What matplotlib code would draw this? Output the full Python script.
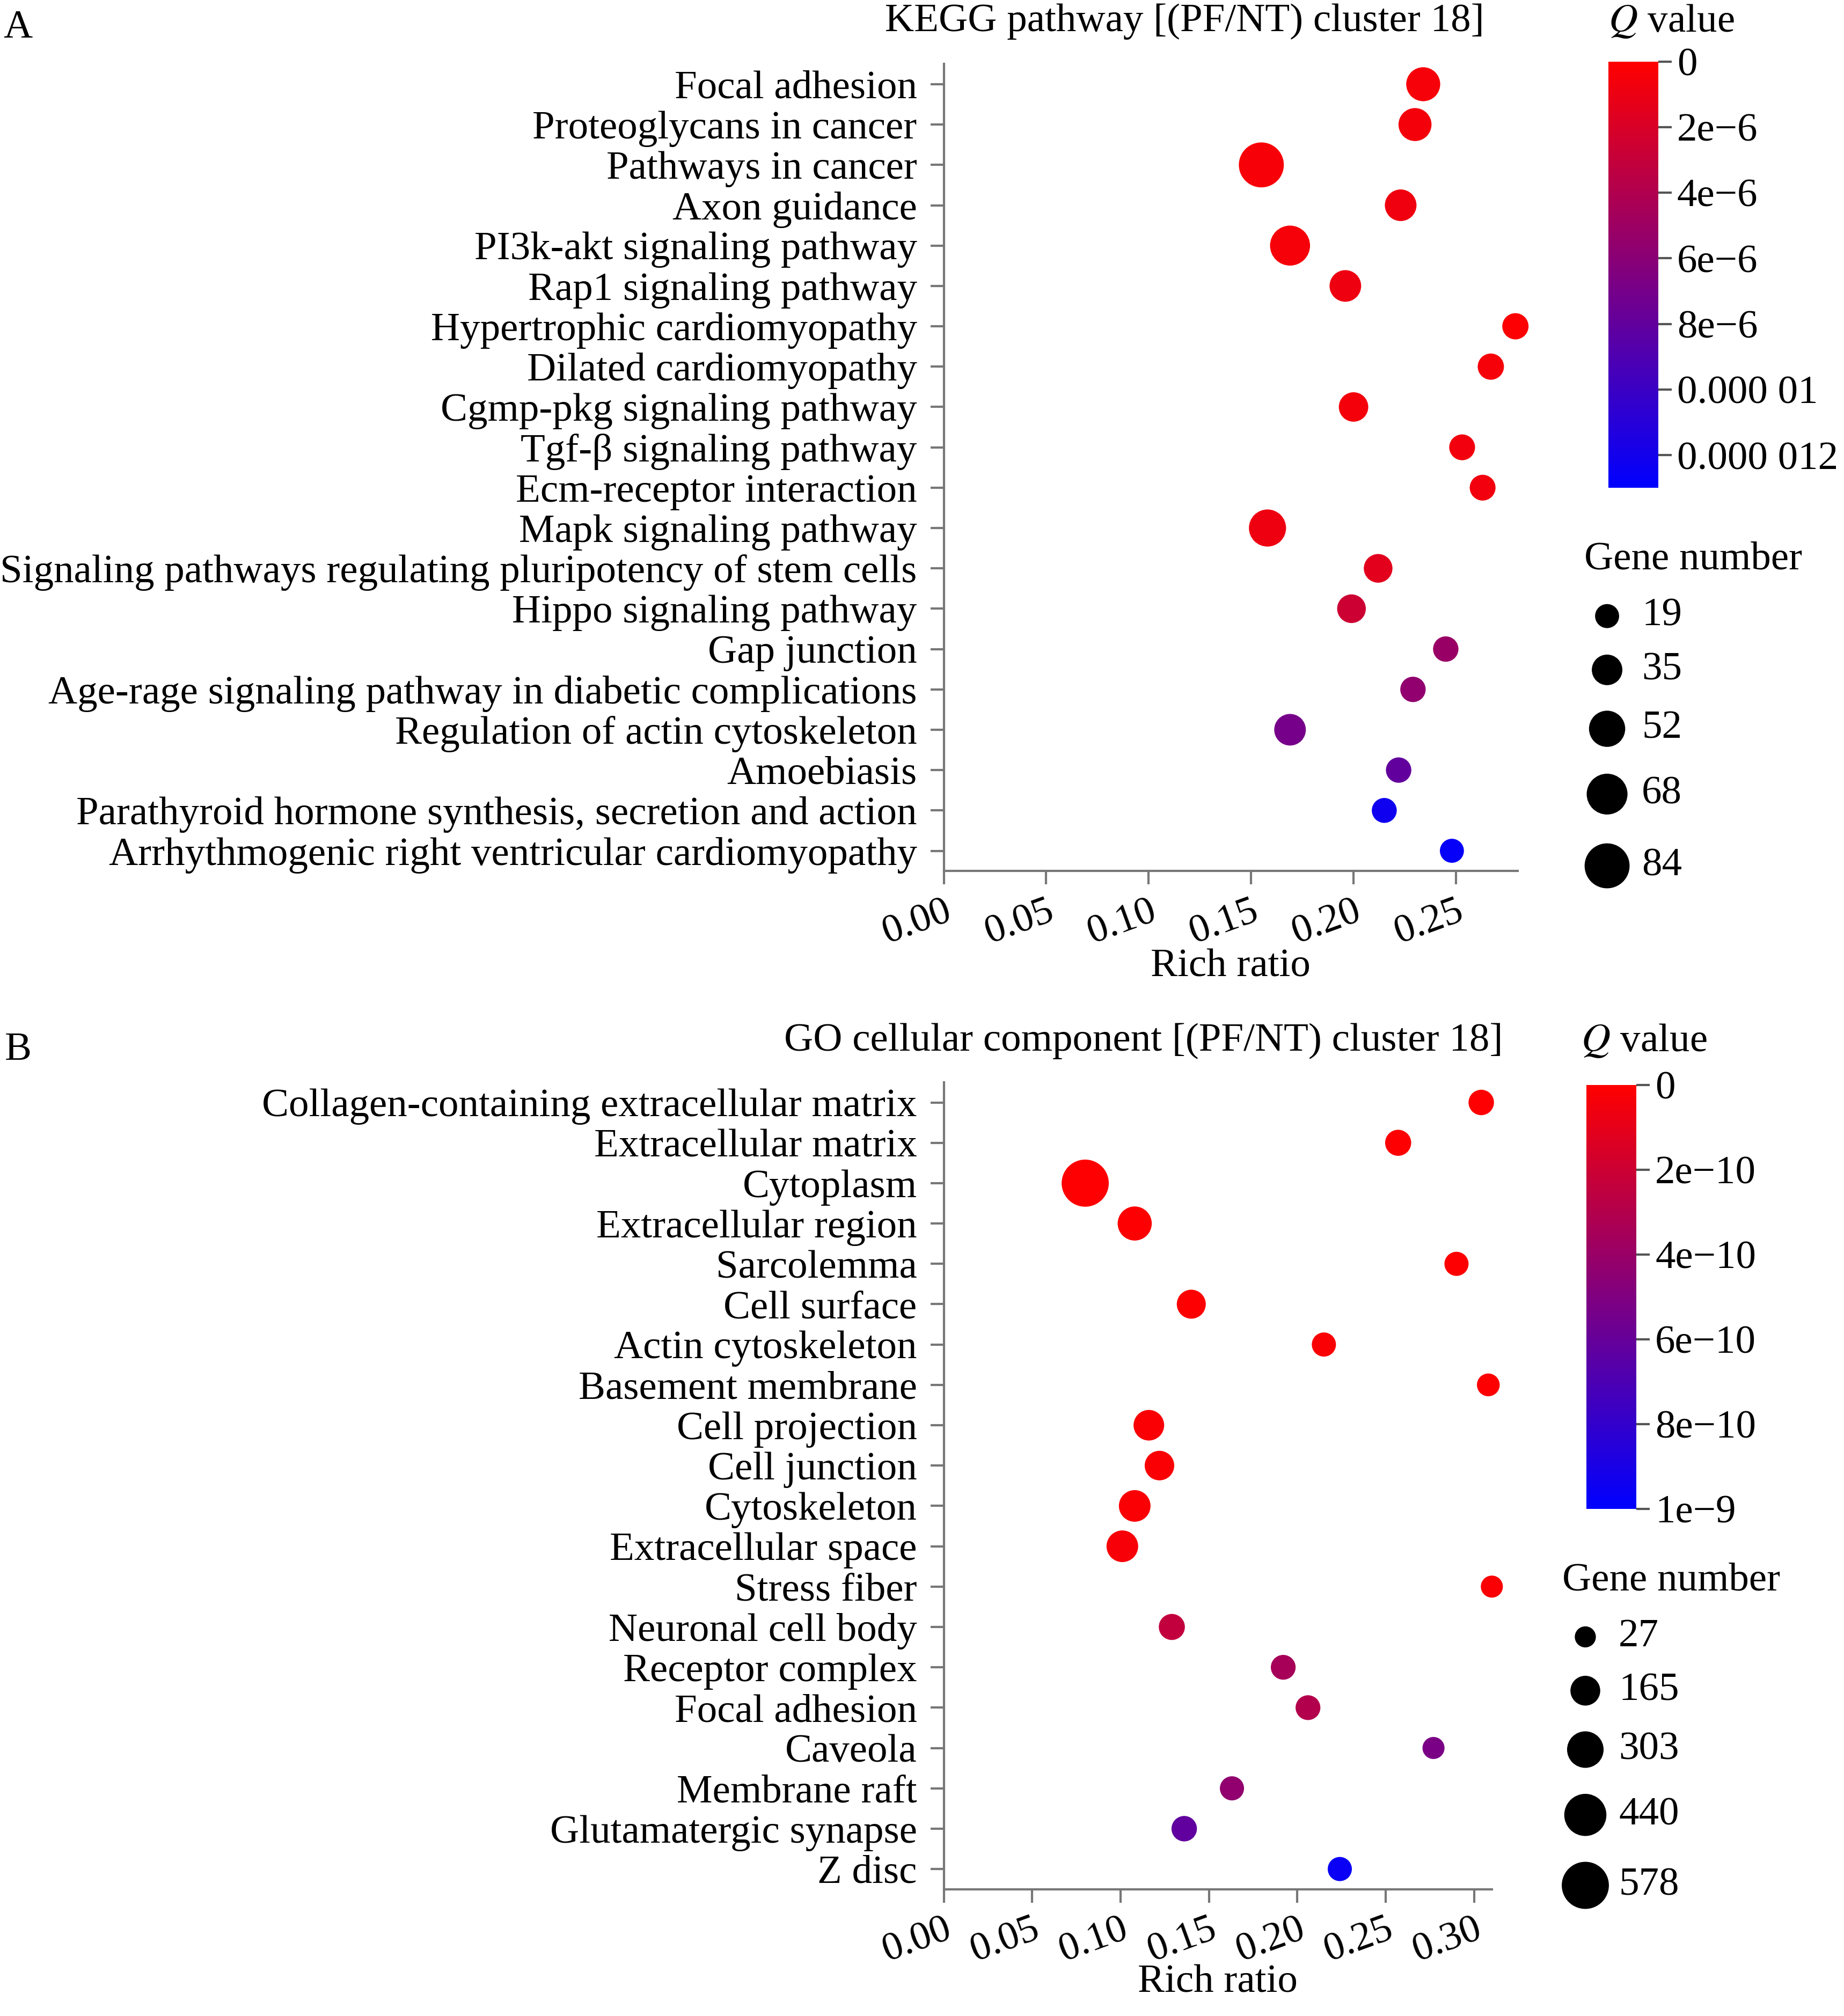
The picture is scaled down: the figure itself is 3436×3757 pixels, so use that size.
import matplotlib
matplotlib.use("Agg")
import matplotlib.pyplot as plt
import numpy as np
from matplotlib.colors import LinearSegmentedColormap, Normalize

plt.rcParams['font.family'] = ['Liberation Serif', 'DejaVu Serif']
plt.rcParams['mathtext.fontset'] = 'stix'

# ---- Panel A data ----
kegg_terms = ["Focal adhesion", "Proteoglycans in cancer", "Pathways in cancer", "Axon guidance",
              "PI3k-akt signaling pathway", "Rap1 signaling pathway", "Hypertrophic cardiomyopathy",
              "Dilated cardiomyopathy", "Cgmp-pkg signaling pathway", "Tgf-β signaling pathway",
              "Ecm-receptor interaction", "Mapk signaling pathway",
              "Signaling pathways regulating pluripotency of stem cells", "Hippo signaling pathway",
              "Gap junction", "Age-rage signaling pathway in diabetic complications",
              "Regulation of actin cytoskeleton", "Amoebiasis",
              "Parathyroid hormone synthesis, secretion and action",
              "Arrhythmogenic right ventricular cardiomyopathy"]
kegg_ratio = [0.234, 0.230, 0.155, 0.223, 0.169, 0.196, 0.279, 0.267, 0.200, 0.253,
              0.263, 0.158, 0.212, 0.199, 0.245, 0.229, 0.169, 0.222, 0.215, 0.248]
kegg_genes = [45, 42, 84, 38, 65, 38, 24, 24, 32, 23, 23, 55, 30, 30, 22, 22, 38, 22, 21, 19]
kegg_q = [0.5e-6, 0.6e-6, 0.4e-6, 0.8e-6, 0.5e-6, 0.9e-6, 0.2e-6, 0.5e-6, 0.6e-6, 0.7e-6,
          0.7e-6, 0.9e-6, 1.5e-6, 2.6e-6, 5.2e-6, 5.6e-6, 7.0e-6, 8.0e-6, 12.2e-6, 12.6e-6]
kegg_legend = [19, 35, 52, 68, 84]
kegg_cticks = [0, 2e-6, 4e-6, 6e-6, 8e-6, 1e-5, 1.2e-5]
kegg_clabels = ["0", "2e\u22126", "4e\u22126", "6e\u22126", "8e\u22126", "0.000 01", "0.000 012"]

# ---- Panel B data ----
go_terms = ["Collagen-containing extracellular matrix", "Extracellular matrix", "Cytoplasm",
            "Extracellular region", "Sarcolemma", "Cell surface", "Actin cytoskeleton",
            "Basement membrane", "Cell projection", "Cell junction", "Cytoskeleton",
            "Extracellular space", "Stress fiber", "Neuronal cell body", "Receptor complex",
            "Focal adhesion", "Caveola", "Membrane raft", "Glutamatergic synapse", "Z disc"]
go_ratio = [0.304, 0.257, 0.080, 0.108, 0.290, 0.140, 0.215, 0.308, 0.116, 0.122,
            0.108, 0.101, 0.310, 0.129, 0.192, 0.206, 0.277, 0.163, 0.136, 0.224]
go_genes = [90, 100, 578, 250, 70, 150, 70, 50, 180, 160, 200, 200, 40, 100, 80, 80, 40, 70, 90, 70]
go_q = [0.05e-10, 0.1e-10, 0.05e-10, 0.1e-10, 0.1e-10, 0.1e-10, 0.2e-10, 0.1e-10, 0.2e-10, 0.2e-10,
        0.2e-10, 0.3e-10, 0.2e-10, 2.4e-10, 3.5e-10, 3.0e-10, 5.2e-10, 4.3e-10, 6.2e-10, 9.6e-10]
go_legend = [27, 165, 303, 440, 578]
go_cticks = [0, 2e-10, 4e-10, 6e-10, 8e-10, 1e-9]
go_clabels = ["0", "2e\u221210", "4e\u221210", "6e\u221210", "8e\u221210", "1e\u22129"]

cmap = LinearSegmentedColormap.from_list("rb", ["#ff0000", "#0000ff"])
FS = 27

W, H = 1440.0, 1574.0
fig = plt.figure(figsize=(17.18, 18.785), dpi=200)

def fx(x): return x / W
def fy(y): return 1 - y / H

def size_a(n): return 260 + 10.0 * (np.asarray(n) - 19)
def size_b(n): return 200 + 1.45 * (np.asarray(n) - 27)

def panel(terms, ratio, genes, q, vmax, sizef, ax_box, xmax, xticks, title, title_x, title_y,
          cb_box, cticks, clabels, q_xy, leg_title_xy, leg_vals, leg_ys, leg_cx, leg_tx,
          xlabel_y, letter, letter_y):
    L, T, R, B = ax_box
    ax = fig.add_axes([fx(L), fy(B), fx(R) - fx(L), fy(T) - fy(B)])
    n = len(terms)
    y = np.arange(n)
    norm = Normalize(0, vmax)
    ax.scatter(ratio, y, s=sizef(genes), c=q, cmap=cmap, norm=norm, edgecolors='none',
               zorder=3, clip_on=False)
    ax.set_ylim(n - 0.5, -0.5)
    ax.set_xlim(0, xmax)
    ax.set_yticks(y)
    ax.set_yticklabels(terms, fontsize=FS)
    ax.set_xticks(xticks)
    ax.set_xticklabels(["%.2f" % v for v in xticks], fontsize=FS, rotation=20, ha='right',
                       rotation_mode='anchor')
    for s in ['top', 'right']:
        ax.spines[s].set_visible(False)
    for s in ['left', 'bottom']:
        ax.spines[s].set_color('#777777')
        ax.spines[s].set_linewidth(1.5)
    ax.tick_params(length=9, width=1.5, color='#777777', direction='out', pad=6)
    ax.tick_params(axis='y', pad=9)
    fig.text(fx(title_x), fy(title_y), title, fontsize=FS, ha='center', va='center')
    fig.text(fx((L + R) / 2), fy(xlabel_y), "Rich ratio", fontsize=FS, ha='center', va='center')
    fig.text(fx(14), fy(letter_y), letter, fontsize=FS, ha='center', va='center')
    cl, ct, cr, cbm = cb_box
    cax = fig.add_axes([fx(cl), fy(cbm), fx(cr) - fx(cl), fy(ct) - fy(cbm)])
    sm = plt.cm.ScalarMappable(norm=norm, cmap=cmap)
    cb = fig.colorbar(sm, cax=cax)
    cb.outline.set_visible(False)
    cax.invert_yaxis()
    cb.set_ticks(cticks)
    cb.set_ticklabels(clabels)
    cax.tick_params(labelsize=FS, length=9, width=1.5, color='#555555', direction='out')
    fig.text(fx(q_xy[0]), fy(q_xy[1]), r"$\it{Q}$ value", fontsize=FS, ha='center', va='center')
    fig.text(fx(leg_title_xy[0]), fy(leg_title_xy[1]), "Gene number", fontsize=FS, ha='left', va='center')
    lax = fig.add_axes([0, 0, 1, 1], facecolor='none')
    lax.set_xlim(0, W); lax.set_ylim(H, 0); lax.axis('off')
    lax.scatter([leg_cx] * len(leg_vals), leg_ys, s=sizef(leg_vals), c='black', edgecolors='none')
    for v, yy in zip(leg_vals, leg_ys):
        lax.text(leg_tx, yy, str(v), fontsize=FS, ha='left', va='center')

panel(kegg_terms, kegg_ratio, kegg_genes, kegg_q, 1.3e-5, size_a,
      (737, 50, 1185, 680), 0.28, [0, 0.05, 0.10, 0.15, 0.20, 0.25],
      "KEGG pathway [(PF/NT) cluster 18]", 925, 17,
      (1256, 48, 1295, 381), kegg_cticks, kegg_clabels, (1305, 17),
      (1237, 437), kegg_legend, [481, 523, 569, 620, 676], 1255, 1282, 755, "A", 22)

panel(go_terms, go_ratio, go_genes, go_q, 1e-9, size_b,
      (737, 845, 1165, 1475), 0.31, [0, 0.05, 0.10, 0.15, 0.20, 0.25, 0.30],
      "GO cellular component [(PF/NT) cluster 18]", 893, 813,
      (1239, 847, 1278, 1178), go_cticks, go_clabels, (1284, 813),
      (1220, 1234), go_legend, [1278, 1320, 1366, 1417, 1472], 1238, 1264, 1548, "B", 820)

fig.savefig("out.png", dpi=200)
